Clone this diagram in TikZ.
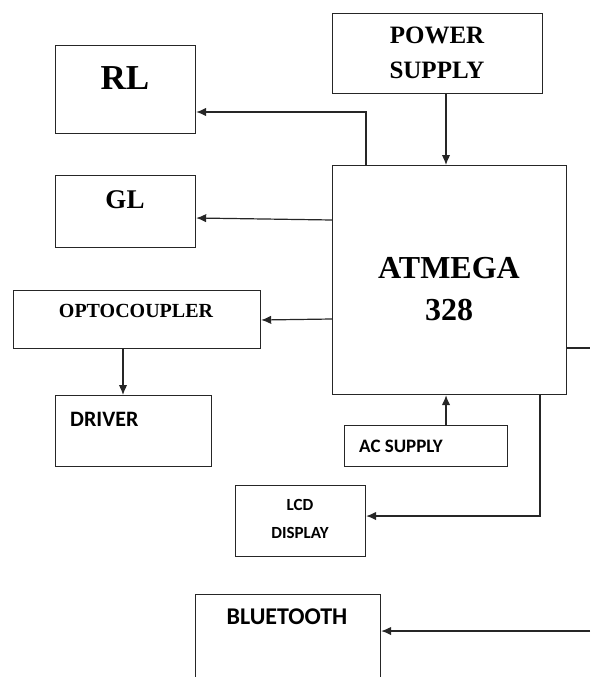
\documentclass[tikz,border=0pt]{standalone}
\usepackage{fontspec}
\setmainfont{Liberation Serif}
\newfontfamily\calfont{Carlito}
\usetikzlibrary{arrows.meta,calc}
\tikzset{
  box/.style={draw=black!85, line width=1.2pt, rectangle, anchor=north west, inner sep=0pt},
  arr/.style={draw=black!85, line width=1.2pt, -{Latex[length=10pt,width=8.5pt]}},
  ln/.style={draw=black!85, line width=1.2pt},
  lbl/.style={inner sep=0pt, align=center},
}
\begin{document}
\begin{tikzpicture}[x=1pt,y=-1pt]
\useasboundingbox (0,0) rectangle (590,677);
\clip (0,0) rectangle (590,677);
% boxes
\node[box, minimum width=140pt, minimum height=88pt] (rl) at (55,45) {};
\node[box, minimum width=140pt, minimum height=72pt] (gl) at (55,175) {};
\node[box, minimum width=210pt, minimum height=80pt] (power) at (332,13) {};
\node[box, minimum width=234pt, minimum height=229pt] (atm) at (332,165) {};
\node[box, minimum width=247pt, minimum height=58pt] (opto) at (13,290) {};
\node[box, minimum width=156pt, minimum height=71pt] (drv) at (55,395) {};
\node[box, minimum width=163pt, minimum height=41pt] (ac) at (344,425) {};
\node[box, minimum width=130pt, minimum height=71pt] (lcd) at (235,485) {};
\node[box, minimum width=185pt, minimum height=100pt] (bt) at (195,594) {};
% texts
\node[lbl, font=\fontsize{35}{40}\selectfont\bfseries] (trl) at (125,78) {RL};
\node[lbl, font=\fontsize{27}{30}\selectfont\bfseries] (tgl) at (125,200) {GL};
\node[lbl, font=\fontsize{25}{35}\selectfont\bfseries] (tpow) at (437,53) {POWER\\SUPPLY};
\node[lbl, font=\fontsize{32}{42}\selectfont\bfseries] (tatm) at (449,289) {ATMEGA\\328};
\node[lbl, font=\fontsize{20}{24}\selectfont\bfseries] (topt) at (136,311) {OPTOCOUPLER};
\node[lbl, anchor=west, font=\fontsize{22}{26}\selectfont\calfont\bfseries] (tdrv) at (70,419) {DRIVER};
\node[lbl, anchor=west, font=\fontsize{19}{22}\selectfont\calfont\bfseries] (tac) at (359,446) {AC SUPPLY};
\node[lbl, font=\fontsize{17}{28}\selectfont\calfont\bfseries] (tlcd) at (300,519) {LCD\\DISPLAY};
\node[lbl, font=\fontsize{24}{28}\selectfont\calfont\bfseries] (tbt) at (287,617) {BLUETOOTH};
% connectors
\draw[arr] ($(atm.north west)+(34,0)$) |- ($(rl.north east)+(0,67)$);
\draw[arr] ($(atm.north west)+(0,55)$) -- ($(gl.north east)+(0,43)$);
\draw[arr] ($(power.south west)+(114,0)$) -- ($(atm.north west)+(114,0)$);
\draw[arr] ($(atm.north west)+(0,154)$) -- ($(opto.north east)+(0,30)$);
\draw[arr] ($(opto.south west)+(110,0)$) -- ($(drv.north west)+(68,0)$);
\draw[arr] ($(ac.north west)+(102,0)$) -- ($(atm.south west)+(114,0)$);
\draw[arr] ($(atm.south west)+(208,0)$) |- ($(lcd.north east)+(0,31)$);
\coordinate (rEnd) at (590,348);
\draw[ln] (atm.east |- rEnd) -- (rEnd);
\coordinate (bStart) at (590,631);
\draw[arr] (bStart) -- (bt.east |- bStart);
\end{tikzpicture}
\end{document}
